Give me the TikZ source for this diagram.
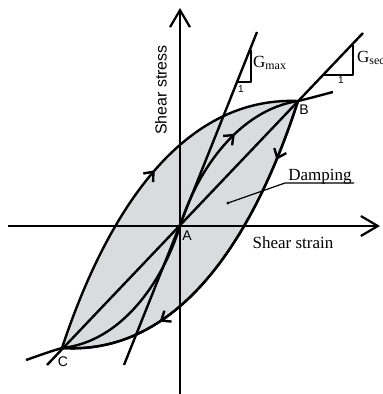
\documentclass[tikz,border=0pt]{standalone}
\usepackage{fontspec}
\setmainfont{Liberation Serif}
\setsansfont{Liberation Sans}
\usetikzlibrary{arrows.meta,decorations.markings}
\begin{document}
\begin{tikzpicture}[x=1pt,y=-1pt,line join=round,
  curve/.style={line width=2.4pt},
  axisline/.style={line width=2.2pt,-{Straight Barb[length=17pt,width=20pt]}},
  midarrow/.style={postaction={decorate},decoration={markings,mark=at position #1 with {\arrow{Straight Barb[length=8pt,width=13pt]}}}},
  thin/.style={line width=1.6pt},
  ptlabel/.style={font=\sffamily\fontsize{14}{14}\selectfont,inner sep=0pt},
  onelabel/.style={font=\sffamily\fontsize{10}{10}\selectfont,inner sep=0pt},
  txt/.style={font=\fontsize{17}{17}\selectfont,inner sep=0pt},
]
\useasboundingbox (0,0) rectangle (383,394);
% key points
\coordinate (A) at (180,226);
\coordinate (B) at (298,101);
\coordinate (C) at (62,348);
\coordinate (Bx) at (333,92);
\coordinate (Cx) at (26,360);
\coordinate (Ytop) at (180,8);
\coordinate (Ybot) at (180,396);
\coordinate (Xl) at (8,226);
\coordinate (Xr) at (380,226);
\coordinate (S1) at (47,365);
\coordinate (S2) at (363,33);
\coordinate (M1) at (124,365);
\coordinate (M2) at (257,32);
% loop fill
\fill[fill={rgb,255:red,218;green,219;blue,223}] (C) .. controls (100,233) and (172,96) .. (B)
   .. controls (260,219) and (188,356) .. (C) -- cycle;
% loop branches
\draw[curve,midarrow=0.55] (C) .. controls (100,233) and (172,96) .. (B);
\draw[curve,midarrow=0.17] (B) .. controls (260,219) and (188,356) .. (C);
\draw[curve,midarrow=0.72] (B) .. controls (260,219) and (188,356) .. (C);
% backbone
\draw[curve,midarrow=0.6] (A) .. controls (198,168) and (240,110) .. (B);
\draw[curve] (B) .. controls (315,97) and (325,94) .. (Bx);
\draw[curve] (A) .. controls (162,284) and (120,342) .. (C);
\draw[curve] (C) .. controls (45,353) and (35,357) .. (Cx);
% secant and Gmax lines
\draw[curve] (S1) -- (S2);
\draw[curve] (M1) -- (M2);
% slope triangles
\draw[thin] (237,82) -- (251,82) -- (251,50);
\draw[thin] (323,75) -- (353,75) -- (353,45);
\node[onelabel] (one1) at (241,89) {1};
\node[onelabel] (one2) at (341,80) {1};
\node[txt,anchor=west] (gmax) at (253,63) {G\textsubscript{max}};
\node[txt,anchor=west] (gsec) at (357,58) {G\textsubscript{sec}};
% axes
\draw[axisline] (Ybot) -- (Ytop);
\draw[axisline] (Xl) -- (Xr);
% labels
\node[ptlabel] (la) at (187,236) {A};
\node[ptlabel] (lb) at (304,110) {B};
\node[ptlabel] (lc) at (63,362) {C};
\node[txt] (strain) at (293,243) {Shear strain};
\node[font=\sffamily\fontsize{16}{16}\selectfont,inner sep=0pt,rotate=90] (stress) at (161,90) {Shear stress};
\node[txt,anchor=base] (damp) at (320,180) {Damping};
\coordinate (U1) at (285,183);
\coordinate (U2) at (354,183);
\coordinate (D) at (228,203);
\draw[line width=1.2pt] (U2) -- (U1) -- (D);
\fill (D) circle (1.6);
\end{tikzpicture}
\end{document}
